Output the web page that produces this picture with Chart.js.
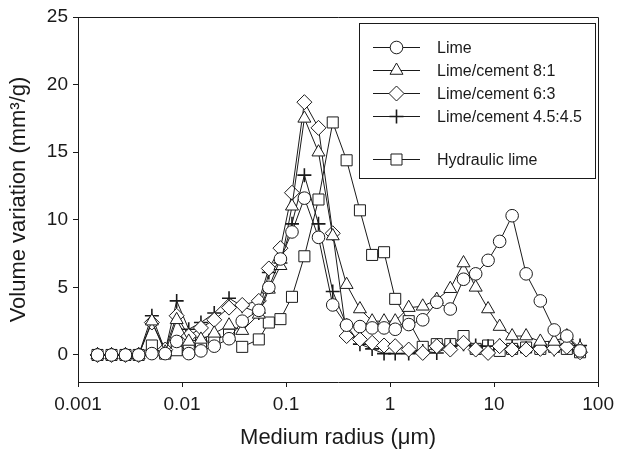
<!DOCTYPE html>
<html>
<head>
<meta charset="utf-8">
<script src="https://cdn.jsdelivr.net/npm/chart.js@4.4.1/dist/chart.umd.min.js"></script>
<style>
  body { margin: 0; background: #fff; }
  #wrap { width: 620px; height: 455px; }
</style>
</head>
<body>
<div id="wrap"><canvas id="poreChart"></canvas></div>
<script>
// medium radius (µm) of each measured step
const radius = [0.00154, 0.0021, 0.00286, 0.00383, 0.00513, 0.00689, 0.00888, 0.0116, 0.0152, 0.0204,
  0.0283, 0.0379, 0.0547, 0.0683, 0.0883, 0.114, 0.150, 0.205, 0.281, 0.382,
  0.513, 0.672, 0.875, 1.12, 1.51, 2.06, 2.81, 3.79, 5.08, 6.65,
  8.75, 11.3, 14.9, 20.3, 27.8, 37.8, 50.0, 67.0];

// volume variation (mm3/g)
const lime = [0, 0, 0, 0, 0.1, 0.1, 1.0, 0.1, 0.3, 0.65,
  1.2, 2.5, 3.3, 5.0, 7.1, 9.1, 11.6, 8.7, 3.7, 2.2,
  2.1, 2.0, 2.0, 1.9, 2.25, 2.6, 3.9, 3.4, 5.6, 6.0,
  7.0, 8.4, 10.3, 6.0, 4.0, 1.85, 1.4, 0.3];
const cement81 = [0, 0, 0, 0, 2.5, 0.2, 2.6, 1.0, 1.15, 1.6,
  2.2, 1.8, 3.0, 4.85, 6.6, 11.0, 17.5, 15.0, 8.8, 5.2,
  3.4, 2.5, 2.5, 2.5, 3.5, 3.6, 4.1, 4.9, 6.8, 5.0,
  3.4, 2.1, 1.4, 1.4, 1.0, 1.0, 1.4, 0.5];
const cement63 = [0, 0, 0, 0, 2.4, 0.4, 2.9, 1.4, 2.0, 2.6,
  3.5, 3.7, 4.0, 6.4, 7.9, 12.0, 18.7, 16.8, 9.0, 1.4,
  1.15, 0.9, 0.7, 0.65, 0.4, 0.15, 0.65, 0.4, 0.9, 0.4,
  0.15, 0.65, 0.4, 0.4, 0.45, 0.5, 0.6, 0.2];
const cement45 = [0, 0, 0, 0, 2.9, 0.3, 4.0, 1.9, 2.4, 3.1,
  4.2, 3.6, 3.1, 6.1, 6.8, 9.7, 13.3, 9.7, 4.7, 2.2,
  0.8, 0.45, 0.1, 0.1, 0.1, 0.3, 0.15, 0.65, 0.8, 0.7,
  0.65, 0.7, 0.65, 0.5, 0.65, 0.4, 0.65, 0.7];
const hydraulic = [0, 0, 0, 0, 0.7, 0.1, 0.35, 0.35, 0.9, 1.15,
  1.5, 0.6, 1.15, 2.4, 2.65, 4.3, 7.3, 11.5, 17.2, 14.4,
  10.7, 7.4, 7.6, 4.15, 2.5, 0.6, 0.8, 0.8, 1.4, 0.45,
  0.7, 0.3, 0.45, 0.55, 0.45, 0.6, 0.45, 0.2];

const seriesNames = ['Lime', 'Lime/cement 8:1', 'Lime/cement 6:3', 'Lime/cement 4.5:4.5', 'Hydraulic lime'];
const seriesValues = [lime, cement81, cement63, cement45, hydraulic];
const markers = ['circle', 'triangle', 'rectRot', 'cross', 'rect'];
const markerSizes = [6.3, 7.5, 7.5, 7, 7.8];
const markerWidths = [1, 1, 1, 1.6, 1];

const xTicks = [0.001, 0.01, 0.1, 1, 10, 100];
const yTicks = [0, 5, 10, 15, 20, 25];

const ink = '#1a1a1a';
const fontFamily = '"Liberation Sans", Arial, Helvetica, sans-serif';

// legend drawn inside the plot, framed, with a gap before the last entry
const boxLegend = {
  id: 'boxLegend',
  afterDatasetsDraw(chart) {
    const ctx = chart.ctx;
    const area = chart.chartArea;
    ctx.save();
    ctx.strokeStyle = ink;
    ctx.lineWidth = 1;
    // top and right frame lines
    ctx.beginPath();
    ctx.moveTo(area.left, Math.round(area.top) + 0.5);
    ctx.lineTo(Math.round(area.right) + 0.5, Math.round(area.top) + 0.5);
    ctx.lineTo(Math.round(area.right) + 0.5, area.bottom);
    ctx.stroke();

    ctx.strokeRect(359.5, 23.5, 236, 155);
    const rows = [47, 70, 93, 116, 159];
    ctx.font = '16px ' + fontFamily;
    ctx.textBaseline = 'middle';
    chart.data.datasets.forEach((ds, i) => {
      const y = rows[i] + 0.5;
      ctx.strokeStyle = ink;
      ctx.lineWidth = 1;
      ctx.beginPath();
      ctx.moveTo(373, y);
      ctx.lineTo(420, y);
      ctx.stroke();
      ctx.fillStyle = '#fff';
      ctx.lineWidth = ds.pointBorderWidth;
      Chart.helpers.drawPoint(ctx, {
        pointStyle: ds.pointStyle, radius: ds.pointRadius, rotation: 0, borderWidth: ds.pointBorderWidth
      }, 396.5, y);
      ctx.fillStyle = ink;
      ctx.fillText(ds.label, 437, y + 1);
    });
    ctx.restore();
  }
};

const ctx = document.getElementById('poreChart').getContext('2d');

new Chart(ctx, {
  type: 'line',
  data: {
    datasets: seriesNames.map((name, i) => ({
      label: name,
      data: radius.map((r, k) => ({ x: r, y: seriesValues[i][k] })),
      borderColor: ink,
      borderWidth: 1,
      pointStyle: markers[i],
      pointRadius: markerSizes[i],
      pointHoverRadius: markerSizes[i],
      pointBackgroundColor: '#fff',
      pointBorderColor: ink,
      pointBorderWidth: markerWidths[i],
      tension: 0,
      fill: false
    }))
  },
  options: {
    responsive: true,
    maintainAspectRatio: false,
    animation: false,
    layout: { padding: { left: 0, top: 17, right: 19, bottom: 0 } },
    plugins: {
      legend: { display: false },
      tooltip: { enabled: false }
    },
    scales: {
      x: {
        type: 'logarithmic',
        min: 0.001,
        max: 100,
        afterBuildTicks: scale => { scale.ticks = xTicks.map(v => ({ value: v })); },
        afterFit: scale => { scale.height = 73; },
        grid: { drawOnChartArea: false, drawTicks: true, tickLength: 5, color: ink },
        border: { display: true, color: ink, width: 1 },
        ticks: {
          autoSkip: false,
          maxRotation: 0,
          padding: 6,
          color: ink,
          font: { family: fontFamily, size: 19 },
          callback: v => String(v)
        },
        title: {
          display: true,
          text: 'Medium radius (\u03bcm)',
          color: ink,
          font: { family: fontFamily, size: 22 },
          padding: { top: 0, bottom: 4 }
        }
      },
      y: {
        min: -2,
        max: 25,
        afterBuildTicks: scale => { scale.ticks = yTicks.map(v => ({ value: v })); },
        afterFit: scale => { scale.width = 78; },
        grid: { drawOnChartArea: false, drawTicks: true, tickLength: 5, color: ink },
        border: { display: true, color: ink, width: 1 },
        ticks: {
          padding: 5,
          color: ink,
          font: { family: fontFamily, size: 19 }
        },
        title: {
          display: true,
          text: 'Volume variation (mm\u00b3/g)',
          color: ink,
          font: { family: fontFamily, size: 22 },
          padding: { top: 6, bottom: 0 }
        }
      }
    }
  },
  plugins: [boxLegend]
});
</script>
</body>
</html>
